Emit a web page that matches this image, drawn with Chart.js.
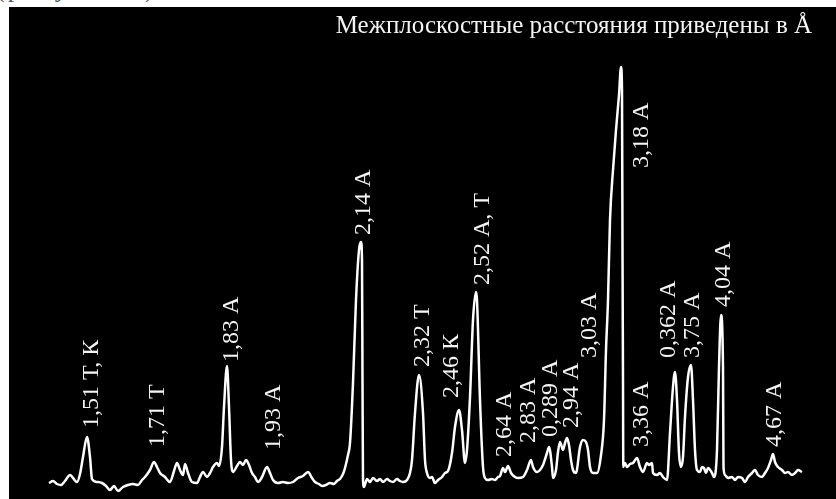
<!DOCTYPE html>
<html>
<head>
<meta charset="utf-8">
<script src="https://cdn.jsdelivr.net/npm/chart.js@4"></script>
<style>
  html, body { margin: 0; padding: 0; background: #ffffff; }
  body { width: 836px; height: 499px; position: relative; overflow: hidden; }
  #cap { position: absolute; left: -4px; top: -26px; font: 26px "Liberation Serif", serif; color: #555; white-space: nowrap; letter-spacing: 3px; }
  #box { position: absolute; left: 9px; top: 7px; width: 827px; height: 492px; background: #000; }
  canvas { display: block; }
</style>
</head>
<body>
<div id="cap">(рисунок 1)</div>
<div id="box"><canvas id="c" width="827" height="492"></canvas></div>
<script>
// Diffractogram trace: channel position and intensity (arbitrary units)
const channel = [49,53,57,61,65,70,73,77,80,83,87,90,92,97,102,106,110,114,118,123,128,133,138,142,145,150,154,157,160,165,170,174,177,180,183,185,188,192,197,200,203,207,210,213,217,219,222,224,227,229,231,233,237,240,243,246,249,252,255,258,262,267,270,273,278,283,288,293,298,303,308,312,315,319,322,326,330,334,337,340,343,345,348,350,353,356,359,361,362,362.5,363,364,367,370,373,377,380,383,387,390,393,397,400,403,407,410,412,415,419,423,425,427,430,432,435,438,442,445,448,452,455,459,462,465,467,470,473,476,477,480,483,485,488,492,495,498,500,503,505,508,511,515,518,523,527,531,533,537,540,543,547,549,552,553,556,558,560,563,565,567,569,571,573,576,580,583,586,588,590,593,597,601,604,606,608,610,613,616,619,621,622,622.5,623,623.3,625,627,630,633,637,640,643,647,649,652,653,657,660,663,667,670,673,675,677,679,681,683,685,688,691,693,695,697,700,702,704,706,708,712,714,717,719,721,723,723.5,725,728,732,735,738,742,745,748,752,755,758,762,765,768,771,773,775,778,782,785,788,792,795,798,802];
const pixelY = [483,481,484,485,481,475,478,482,474,457,437,457,479,482,483,486,490,486,491,487,485,484,485,480,477,470,462,467,473,477,482,471,463,470,475,464,473,482,483,477,472,477,473,467,463,466,447,407,366,407,460,472,466,462,465,460,465,473,477,482,477,467,473,480,483,482,483,482,478,476,472,478,482,484,486,485,483,484,481,479,474,468,455,443,383,300,250,242,260,380,480,487,479,482,478,481,479,482,479,481,482,479,481,482,480,473,460,413,375,413,460,473,478,477,483,480,477,473,471,453,427,410,430,463,450,397,320,292,300,400,467,478,480,479,480,477,476,468,472,466,473,477,478,477,470,460,467,472,470,465,453,447,467,478,470,452,442,450,443,438,445,460,470,473,447,440,442,450,467,473,473,455,420,350,300,220,170,130,95,67,90,250,380,467,463,467,464,463,458,467,472,463,465,463,473,475,473,477,480,433,387,372,400,453,467,457,417,377,365,400,450,470,472,467,468,473,468,473,477,450,367,315,367,467,475,478,477,480,477,478,482,477,473,470,475,477,473,468,460,454,462,467,470,473,472,475,473,470,472];
const intensity = pixelY.map(v => 490 - v);

// Peak annotations (interplanar spacings)
const peakLabels = ["1,51 Т, К","1,71 Т","1,83 А","1,93 А","2,14 А","2,32 Т","2,46 К","2,52 А, Т","2,64 А","2,83 А","0,289 А","2,94 А","3,03 А","3,18 А","3,36 А","0,362 А","3,75 А","4,04 А","4,67 А"];
const peakLabelX = [92,158,232,274,364,423,452,483,505,529,551,572,590,642,642,669,693,724,775];
const peakLabelBase = [428,447,362,450,235,367,398,285,457,443,437,428,358,168,447,358,358,307,447].map(v => 490 - v);

const titleText = "Межплоскостные расстояния приведены в Å";

const points = channel.map((x, i) => ({ x: x, y: intensity[i] }));

const labelPlugin = {
  id: 'peakLabels',
  afterDatasetsDraw(chart) {
    const ctx = chart.ctx;
    const xs = chart.scales.x, ys = chart.scales.y;
    ctx.save();
    ctx.fillStyle = '#f4f4f4';
    ctx.font = '24px "Liberation Serif", serif';
    ctx.textAlign = 'left';
    ctx.textBaseline = 'middle';
    peakLabels.forEach((t, i) => {
      const px = xs.getPixelForValue(peakLabelX[i]);
      const py = ys.getPixelForValue(peakLabelBase[i]);
      ctx.save();
      ctx.translate(px, py);
      ctx.rotate(-Math.PI / 2);
      ctx.fillText(t, 0, 0);
      ctx.restore();
    });
    ctx.font = '25px "Liberation Serif", serif';
    ctx.textAlign = 'right';
    ctx.textBaseline = 'alphabetic';
    ctx.fillText(titleText, chart.chartArea.right - 24, chart.chartArea.top + 26);
    ctx.restore();
  }
};

new Chart(document.getElementById('c'), {
  type: 'line',
  data: {
    datasets: [{
      data: points,
      borderColor: '#ffffff',
      borderWidth: 2.5,
      pointRadius: 0,
      fill: false,
      cubicInterpolationMode: 'monotone'
    }]
  },
  options: {
    responsive: false,
    animation: false,
    devicePixelRatio: 1,
    layout: { padding: 0 },
    plugins: { legend: { display: false }, tooltip: { enabled: false }, title: { display: false } },
    scales: {
      x: { type: 'linear', min: 9, max: 836, display: false },
      y: { type: 'linear', min: -9, max: 483, display: false }
    }
  },
  plugins: [labelPlugin]
});
</script>
</body>
</html>
